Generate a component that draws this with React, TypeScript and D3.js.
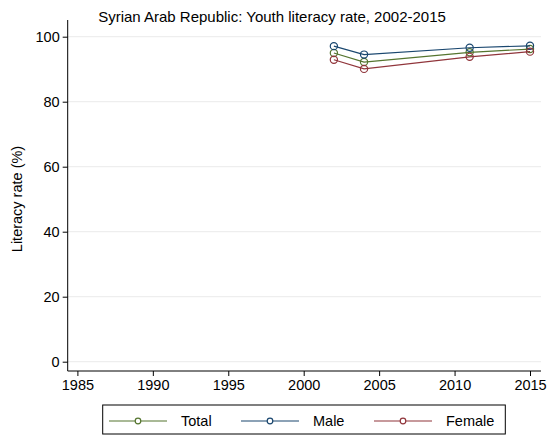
import React, { useEffect, useRef } from "react";
import * as d3 from "d3";

const years = [2002, 2004, 2011, 2015];
const totalValues = [95.0, 92.2, 95.2, 96.2];
const maleValues = [97.1, 94.5, 96.6, 97.2];
const femaleValues = [92.9, 90.1, 93.8, 95.4];
const seriesNames = ["Total", "Male", "Female"];
const seriesColors = ["#55752f", "#1a476f", "#90353b"];
const xTicks = [1985, 1990, 1995, 2000, 2005, 2010, 2015];
const yTicks = [0, 20, 40, 60, 80, 100];

const W = 549;
const H = 435;

export default function App() {
  const ref = useRef<SVGSVGElement>(null);

  useEffect(() => {
    const svg = d3.select(ref.current);
    svg.selectAll("*").remove();
    const font = "Liberation Sans, Arial, sans-serif";
    const fs = 14.5;

    const x = d3.scaleLinear().domain([1985, 2015]).range([77.4, 530]);
    const y = d3.scaleLinear().domain([0, 100]).range([361.7, 36.7]);
    const plotL = 67.7, plotR = 541, axisY = 371;

    svg.append("rect").attr("width", W).attr("height", H).attr("fill", "#fff");

    // gridlines
    svg.append("g").selectAll("line").data(yTicks).join("line")
      .attr("x1", plotL).attr("x2", plotR)
      .attr("y1", d => y(d)).attr("y2", d => y(d))
      .attr("stroke", "#eaeaea").attr("stroke-width", 1);

    // y axis
    const ya = svg.append("g").attr("transform", `translate(${plotL},0)`)
      .call(d3.axisLeft(y).tickValues(yTicks).tickSize(5).tickPadding(3).tickSizeOuter(0));
    ya.select(".domain").attr("stroke", "#000").attr("d", `M0,${20}V${axisY}`);
    ya.selectAll(".tick line").attr("stroke", "#000");
    ya.selectAll(".tick text").attr("font-family", font).attr("font-size", fs).attr("fill", "#000");

    // x axis
    const xa = svg.append("g").attr("transform", `translate(0,${axisY})`)
      .call(d3.axisBottom(x).tickValues(xTicks).tickFormat(d3.format("d")).tickSize(5).tickPadding(4).tickSizeOuter(0));
    xa.select(".domain").attr("stroke", "#000").attr("d", `M${plotL},0H${plotR}`);
    xa.selectAll(".tick line").attr("stroke", "#000");
    xa.selectAll(".tick text").attr("font-family", font).attr("font-size", fs).attr("fill", "#000");

    // title
    svg.append("text").attr("x", 272).attr("y", 22).attr("text-anchor", "middle")
      .attr("font-family", font).attr("font-size", 15).attr("fill", "#000")
      .text("Syrian Arab Republic: Youth literacy rate, 2002-2015");

    // y label
    svg.append("text").attr("transform", `translate(22,199) rotate(-90)`)
      .attr("text-anchor", "middle").attr("font-family", font).attr("font-size", fs).attr("fill", "#000")
      .text("Literacy rate (%)");

    const allSeries = [totalValues, maleValues, femaleValues];
    const line = d3.line<number>().x((_, i) => x(years[i])).y(d => y(d));
    allSeries.forEach((vals, si) => {
      const g = svg.append("g");
      g.append("path").attr("d", line(vals) as string).attr("fill", "none")
        .attr("stroke", seriesColors[si]).attr("stroke-width", 1.2);
      g.selectAll("circle").data(vals).join("circle")
        .attr("cx", (_, i) => x(years[i])).attr("cy", d => y(d)).attr("r", 3.6)
        .attr("fill", "none").attr("stroke", seriesColors[si]).attr("stroke-width", 1.2);
    });

    // legend
    const lg = svg.append("g");
    lg.append("rect").attr("x", 102.7).attr("y", 405).attr("width", 402.6).attr("height", 29)
      .attr("fill", "#fff").attr("stroke", "#000").attr("stroke-width", 1);
    const lx = [109, 241, 374];
    seriesNames.forEach((name, i) => {
      const ly = 421;
      lg.append("line").attr("x1", lx[i]).attr("x2", lx[i] + 58).attr("y1", ly).attr("y2", ly)
        .attr("stroke", seriesColors[i]).attr("stroke-width", 1.2);
      lg.append("circle").attr("cx", lx[i] + 29).attr("cy", ly).attr("r", 2.8)
        .attr("fill", "#fff").attr("stroke", seriesColors[i]).attr("stroke-width", 1.2);
      lg.append("text").attr("x", lx[i] + 72).attr("y", ly + 5)
        .attr("font-family", font).attr("font-size", fs).attr("fill", "#000").text(name);
    });
  }, []);

  return (
    <div style={{ position: "absolute", left: 0, top: 0 }}>
      <svg ref={ref} width={W} height={H} style={{ display: "block" }} />
    </div>
  );
}
